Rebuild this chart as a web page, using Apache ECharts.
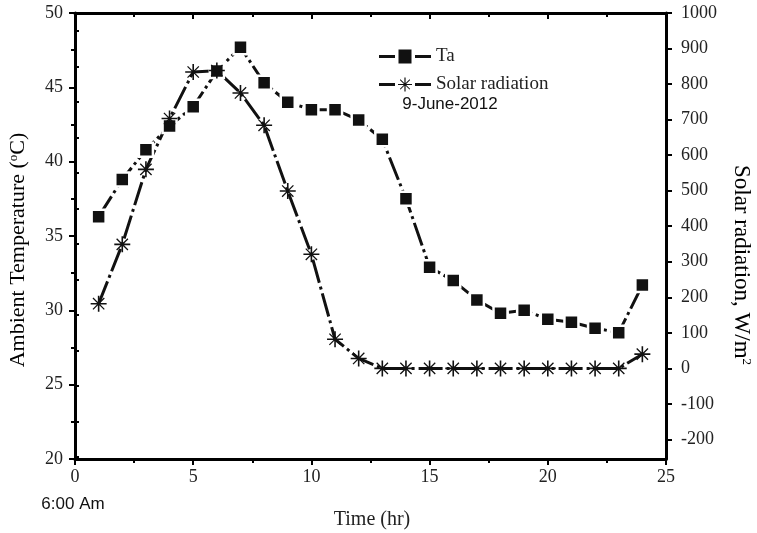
<!DOCTYPE html>
<html>
<head>
<meta charset="utf-8">
<script src="https://cdn.jsdelivr.net/npm/echarts@6/dist/echarts.min.js"></script>
<style>html,body{margin:0;padding:0;background:#fff}#c{width:757px;height:533px}</style>
</head>
<body>
<div id="c"></div>
<script>
var hours = [1,2,3,4,5,6,7,8,9,10,11,12,13,14,15,16,17,18,19,20,21,22,23,24];
var ta = [36.3,38.8,40.8,42.4,43.7,46.1,47.7,45.3,44.0,43.5,43.5,42.8,41.5,37.5,32.9,32.0,30.7,29.8,30.0,29.4,29.2,28.8,28.5,31.7];
var solar = [182,349,560,703,834,838,775,684,499,321,82,28,0,0,0,0,0,0,0,0,0,0,0,40];
var rightLabels = [-200,-100,0,100,200,300,400,500,600,700,800,900,1000];
var rightMinor = [-250,-150,-50,50,150,250,350,450,550,650,750,850,950];

var serif = '"Liberation Serif","Times New Roman",serif';
var sans = '"Liberation Sans",Arial,sans-serif';
var asterisk = 'path://M0 45L100 45L100 55L0 55Z M45 0L55 0L55 100L45 100Z M17.47 11.81L88.19 82.53L82.53 88.19L11.81 17.47Z M82.53 11.81L88.19 17.47L17.47 88.19L11.81 82.53Z';
// legend icons (line - symbol - line), drawn in a 52x14 box
var legTa = 'path://M0 5.5L16 5.5L16 8.5L0 8.5Z M36 5.5L52 5.5L52 8.5L36 8.5Z M19.5 0L32.5 0L32.5 14L19.5 14Z';
var legSol = 'path://M0 5.5L16 5.5L16 8.5L0 8.5Z M36 5.5L52 5.5L52 8.5L36 8.5Z ' +
  'M19 6.4L33 6.4L33 7.6L19 7.6Z M25.4 0L26.6 0L26.6 14L25.4 14Z ' +
  'M21.5 1.7L31.2 11.4L30.5 12.1L20.8 2.4Z M30.5 1.7L31.2 2.4L21.5 12.1L20.8 11.4Z';

function axLine(){ return {show:true, onZero:false, lineStyle:{color:'#000', width:3}}; }
function tick(len, inside){ return {show:true, inside:!!inside, length:len, lineStyle:{width:2,color:'#000'}}; }
function lab(m){ return {color:'#222', fontFamily: serif, fontSize: 18, margin: m}; }

var chart = echarts.init(document.getElementById('c'));
chart.setOption({
  animation: false,
  grid: {left: 75, right: 91, top: 13, bottom: 74, containLabel: false},
  legend: {
    left: 374, top: 42, orient: 'vertical', itemWidth: 52, itemHeight: 14, itemGap: 9,
    textStyle: {fontFamily: serif, fontSize: 19, color: '#222'},
    itemStyle: {borderWidth: 0, color: '#111'},
    data: [{name:'Ta', icon: legTa}, {name:'Solar radiation', icon: legSol}]
  },
  xAxis: [
    {type:'value', min:0, max:25, interval:5, position:'bottom', axisLine:axLine(),
     axisTick:tick(6), minorTick:Object.assign(tick(4), {splitNumber:2}),
     splitLine:{show:false}, axisLabel:lab(9)},
    {type:'value', min:0, max:25, interval:5, position:'top', axisLine:axLine(),
     axisTick:tick(6, true), minorTick:Object.assign(tick(4), {splitNumber:2}),
     splitLine:{show:false}, axisLabel:{show:false}}
  ],
  yAxis: [
    {type:'value', min:20, max:50, interval:5, position:'left', axisLine:axLine(),
     axisTick:tick(6), minorTick:Object.assign(tick(4), {splitNumber:2}),
     splitLine:{show:false}, axisLabel:lab(12)},
    {type:'value', min:-255, max:1000, position:'right', axisLine:axLine(),
     axisTick:Object.assign(tick(6), {customValues: rightLabels}),
     splitLine:{show:false},
     axisLabel:Object.assign(lab(15), {customValues: rightLabels, formatter:function(v){return String(v);}})},
    {type:'value', min:-255, max:1000, position:'right', axisLine:{show:false},
     axisTick:Object.assign(tick(4), {customValues: rightMinor}),
     splitLine:{show:false}, axisLabel:{show:false, customValues: rightMinor}}
  ],
  series: [
    {name:'Ta', type:'line', xAxisIndex:0, yAxisIndex:0,
     data: hours.map(function(h,i){return [h, ta[i]];}),
     symbol:'rect', symbolSize:14,
     itemStyle:{color:'#111', borderColor:'#fff', borderWidth:2.5},
     lineStyle:{color:'#111', width:3, type:[24,4,3,4]}},
    {name:'Solar radiation', type:'line', xAxisIndex:0, yAxisIndex:1,
     data: hours.map(function(h,i){return [h, solar[i]];}),
     symbol: asterisk, symbolSize:16,
     itemStyle:{color:'#111', borderWidth:0},
     lineStyle:{color:'#111', width:3, type:[24,4,3,4]}}
  ],
  graphic: [
    {type:'text', x:450, y:104, style:{text:'9-June-2012', font:'17px '+sans, fill:'#111', textAlign:'center', textVerticalAlign:'middle'}},
    {type:'text', x:73, y:504, style:{text:'6:00 Am', font:'17px '+sans, fill:'#111', textAlign:'center', textVerticalAlign:'middle'}},
    {type:'text', x:372, y:520, style:{text:'Time (hr)', font:'20px '+serif, fill:'#222', textAlign:'center', textVerticalAlign:'middle'}},
    {type:'text', x:18, y:250, rotation:Math.PI/2, style:{
      text:'{a|Ambient Temperature (}{s|o}{a|C)}', textAlign:'center', textVerticalAlign:'middle',
      rich:{a:{fontSize:22, fontFamily:serif, color:'#222'},
            s:{fontSize:13, fontFamily:serif, color:'#222', verticalAlign:'top', padding:[0,0,8,0]}}}},
    {type:'text', x:741, y:265, rotation:-Math.PI/2, style:{
      text:'{a|Solar radiation, W/m}{s|2}', textAlign:'center', textVerticalAlign:'middle',
      rich:{a:{fontSize:23, fontFamily:serif, color:'#222'},
            s:{fontSize:13, fontFamily:serif, color:'#222', verticalAlign:'top', padding:[0,0,8,0]}}}}
  ]
});
</script>
</body>
</html>
